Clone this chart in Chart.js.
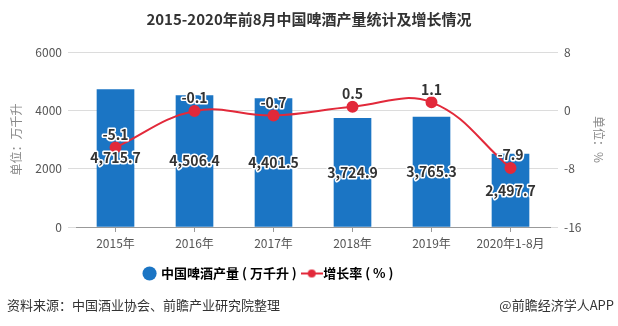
<!DOCTYPE html>
<html lang="zh">
<head>
<meta charset="UTF-8">
<title>2015-2020年前8月中国啤酒产量统计及增长情况</title>
<script src="https://cdn.jsdelivr.net/npm/chart.js"></script>
<style>
  html, body { margin: 0; padding: 0; background: #fff; }
  #wrap { width: 618px; height: 326px; position: relative; }
</style>
</head>
<body>
<div id="wrap"><canvas id="myChart"></canvas></div>
<script>
// 数据
const years = ['2015年', '2016年', '2017年', '2018年', '2019年', '2020年1-8月'];
const output = [4715.7, 4506.4, 4401.5, 3724.9, 3765.3, 2497.7];   // 万千升
const growth = [-5.1, -0.1, -0.7, 0.5, 1.1, -7.9];                 // %
const leftTicks = [0, 2000, 4000, 6000];
const rightTicks = [-16, -8, 0, 8];

const FONT = '"Noto Sans CJK SC", "Microsoft YaHei", sans-serif';
const BLUE = '#1b75c4';
const RED = '#e2293a';

// 图例中折线的小图标
const lineIcon = document.createElement('canvas');
lineIcon.width = 22; lineIcon.height = 10;
(function () {
  const c = lineIcon.getContext('2d');
  c.strokeStyle = RED; c.lineWidth = 2;
  c.beginPath(); c.moveTo(0, 5); c.lineTo(22, 5); c.stroke();
  c.fillStyle = RED;
  c.beginPath(); c.arc(11, 5, 4, 0, Math.PI * 2); c.fill();
})();

// 数据标签
const valueLabels = {
  id: 'valueLabels',
  afterDatasetsDraw(chart) {
    const ctx = chart.ctx;
    ctx.save();
    ctx.font = 'bold 14px ' + FONT;
    ctx.textAlign = 'center';
    ctx.textBaseline = 'middle';
    ctx.lineJoin = 'round';
    ctx.lineWidth = 3;
    ctx.strokeStyle = '#fff';
    ctx.fillStyle = '#333';
    chart.getDatasetMeta(0).data.forEach((bar, i) => {
      const txt = output[i].toLocaleString('en-US', { minimumFractionDigits: 1 });
      const y = (bar.y + bar.base) / 2;
      ctx.strokeText(txt, bar.x, y);
      ctx.fillText(txt, bar.x, y);
    });
    chart.getDatasetMeta(1).data.forEach((pt, i) => {
      const txt = growth[i].toFixed(1);
      ctx.strokeText(txt, pt.x, pt.y - 13);
      ctx.fillText(txt, pt.x, pt.y - 13);
    });
    ctx.restore();
  }
};

// 图例整体略偏左
const legendShift = {
  id: 'legendShift',
  afterLayout(chart) {
    chart.legend.left -= 40;
    chart.legend.right -= 40;
  }
};

// 底部来源
const footer = {
  id: 'footer',
  afterDraw(chart) {
    const ctx = chart.ctx;
    ctx.save();
    ctx.font = '13px ' + FONT;
    ctx.fillStyle = '#333';
    ctx.textBaseline = 'middle';
    ctx.textAlign = 'left';
    ctx.fillText('资料来源：中国酒业协会、前瞻产业研究院整理', 7, 305);
    ctx.textAlign = 'right';
    ctx.fillText('@前瞻经济学人APP', 614, 305);
    ctx.restore();
  }
};

new Chart(document.getElementById('myChart'), {
  data: {
    labels: years,
    datasets: [{
      type: 'bar',
      label: '中国啤酒产量 ( 万千升 )',
      data: output,
      backgroundColor: BLUE,
      barThickness: 37,
      yAxisID: 'y',
      order: 2
    }, {
      type: 'line',
      label: '增长率 ( % )',
      data: growth,
      borderColor: RED,
      backgroundColor: RED,
      borderWidth: 2,
      pointRadius: 5,
      pointStyle: 'circle',
      tension: 0.4,
      yAxisID: 'y1',
      order: 1
    }]
  },
  options: {
    responsive: true,
    maintainAspectRatio: false,
    animation: false,
    layout: { padding: { top: 0, bottom: 36, left: 0, right: 0 } },
    plugins: {
      title: {
        display: true,
        text: '2015-2020年前8月中国啤酒产量统计及增长情况',
        color: '#333',
        font: { family: FONT, size: 15, weight: 'bold' },
        padding: { top: 10, bottom: 24 }
      },
      legend: {
        position: 'bottom',
        labels: {
          usePointStyle: true,
          boxWidth: 10,
          boxHeight: 10,
          color: '#333',
          font: { family: FONT, size: 13, weight: 'bold' },
          padding: 10,
          generateLabels(chart) {
            return [
              { text: chart.data.datasets[0].label, fillStyle: BLUE, strokeStyle: BLUE, pointStyle: 'circle', lineWidth: 0, datasetIndex: 0 },
              { text: chart.data.datasets[1].label, fillStyle: RED, strokeStyle: RED, pointStyle: lineIcon, lineWidth: 0, datasetIndex: 1 }
            ];
          }
        }
      },
      tooltip: { enabled: false }
    },
    scales: {
      x: {
        grid: { offset: false, drawOnChartArea: false, drawTicks: true, tickLength: 5, color: '#999' },
        border: { display: true, color: '#999' },
        ticks: { color: '#555', font: { family: FONT, size: 12 }, padding: 4 },
        afterFit(scale) { scale.height = 30; }
      },
      y: {
        position: 'left',
        min: 0, max: 6000,
        afterBuildTicks(scale) { scale.ticks = leftTicks.map(v => ({ value: v })); },
        grid: { color: '#dcdcdc', tickLength: 8, tickColor: '#dcdcdc' },
        border: { display: false },
        ticks: { color: '#555', font: { family: FONT, size: 12 }, padding: 6, callback: v => String(v) },
        title: { display: true, text: '单位：万千升', color: '#888', font: { family: FONT, size: 12 }, padding: { top: 9, bottom: 0 } },
        afterFit(scale) { scale.width = 76; }
      },
      y1: {
        position: 'right',
        min: -16, max: 8,
        afterBuildTicks(scale) { scale.ticks = rightTicks.map(v => ({ value: v })); },
        grid: { drawOnChartArea: false, tickLength: 8, tickColor: '#dcdcdc' },
        border: { display: false },
        ticks: { color: '#555', font: { family: FONT, size: 12 }, padding: 6, callback: v => String(v) },
        title: { display: true, text: '单位：%', color: '#888', font: { family: FONT, size: 12 }, padding: { top: 12, bottom: 0 } },
        afterFit(scale) { scale.width = 68; }
      }
    }
  },
  plugins: [valueLabels, legendShift, footer]
});
</script>
</body>
</html>
